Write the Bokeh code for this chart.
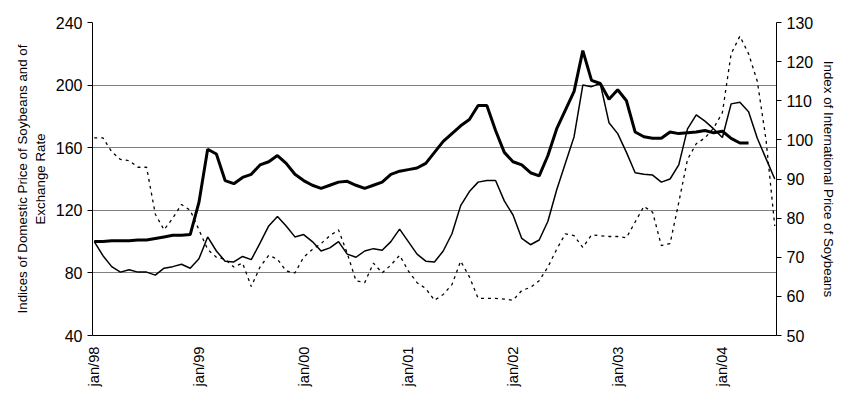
import math
from bokeh.plotting import figure
from bokeh.models import Range1d, LinearAxis, FixedTicker
from bokeh.embed import file_html
from bokeh.resources import INLINE

months = list(range(79))
tick_months = [0, 12, 24, 36, 48, 60, 72]
tick_labels = ["jan/98", "jan/99", "jan/00", "jan/01", "jan/02", "jan/03", "jan/04"]

# domestic price of soybeans (left axis), jan/98 - may/04
domestic = [100, 100, 100.5, 100.5, 100.5, 101, 101, 102, 103, 104, 104, 104.5,
            125, 159, 156, 139, 137, 141, 143, 149, 151, 155, 150, 143,
            139, 136, 134, 136, 138, 138.5, 136, 134, 136, 138, 143, 145,
            146, 147, 150, 157, 164, 169, 174, 178, 187, 187, 171, 157,
            151, 149, 144, 142, 155, 172, 184, 196, 222, 203, 201, 191,
            197, 190, 170, 167, 166, 166, 170, 169, 169.5, 170, 171, 169.5,
            170.5, 166, 163, 163]
# exchange rate (left axis)
exchange = [100, 91, 84, 80.5, 82, 80.5, 80.5, 78.6, 83, 84, 85.5, 83,
            89, 103, 94, 87.5, 87, 90.5, 88.5, 99, 110, 116, 110, 103,
            104.5, 100, 94, 96, 100, 92, 90, 94, 95.5, 94.5, 100, 108,
            100, 92, 87.5, 87, 94, 105, 123, 132, 138, 139, 139, 126,
            117, 102, 98, 101, 113, 133, 150, 167, 200, 199, 201, 176,
            169, 157, 144, 143, 142.5, 138, 140, 149, 172, 181, 177, 172,
            166.5, 188, 189, 183, 166, 153, 140]
# international price of soybeans (right axis)
international = [100.5, 100.5, 97, 95, 94.7, 93, 93, 81, 77, 80, 83.5, 82,
                 77, 72, 70, 69.5, 67.5, 68.5, 62.5, 67.5, 70.5, 69.5, 66.5, 66,
                 70, 72, 73.5, 75.5, 77, 71, 64, 63.5, 68.5, 66, 68, 70.5,
                 66.5, 63.5, 62, 59, 60.5, 63, 69, 65, 59.5, 59.5, 59.5, 59.3,
                 59, 61.5, 62.3, 64, 67.5, 72, 76, 75.5, 72.5, 75.7, 75.5, 75.3,
                 75.3, 75, 79, 83, 81.5, 73, 73.5, 84, 95, 99, 100.5, 103,
                 107, 122, 126.5, 122, 115, 100, 78]

FONT = "Liberation Sans"

p = figure(width=840, height=389, output_backend="svg", toolbar_location=None,
           x_range=Range1d(-0.2, 78.2), y_range=Range1d(40, 240),
           min_border_left=92, min_border_right=64, min_border_top=22, min_border_bottom=49)
p.outline_line_color = None
p.background_fill_color = "white"
p.extra_y_ranges = {"intl": Range1d(50, 130)}

p.line(months[:len(domestic)], domestic, color="black", line_width=3)
p.line(months[:len(exchange)], exchange, color="black", line_width=1.5)
p.line(months[:len(international)], international, color="black", line_width=1.3,
       line_dash="3 4", y_range_name="intl")

p.xgrid.grid_line_color = None
p.ygrid.grid_line_color = "#808080"
p.ygrid.grid_line_width = 1.2
p.yaxis.ticker = FixedTicker(ticks=[40, 80, 120, 160, 200, 240])

right = LinearAxis(y_range_name="intl", ticker=FixedTicker(ticks=list(range(50, 131, 10))))
p.add_layout(right, "right")

p.xaxis.ticker = FixedTicker(ticks=tick_months)
p.xaxis.major_label_overrides = {m: t for m, t in zip(tick_months, tick_labels)}
p.xaxis.major_label_orientation = math.pi / 2
p.xaxis.major_tick_line_color = None
p.xaxis.minor_tick_line_color = None

for ax in [p.xaxis[0], p.yaxis[0], right]:
    ax.axis_line_color = "black"
    ax.major_label_text_font = FONT
    ax.major_label_text_color = "black"
    ax.axis_label_text_font = FONT
    ax.axis_label_text_color = "black"
    ax.axis_label_text_font_style = "normal"
    ax.axis_label_text_font_size = "10pt"
    ax.minor_tick_line_color = None
p.yaxis[0].major_label_text_font_size = "12pt"
right.major_label_text_font_size = "12pt"
p.xaxis.major_label_text_font_size = "11pt"
for ax in [p.yaxis[0], right]:
    ax.major_tick_line_color = "black"
    ax.major_tick_out = 5
    ax.major_tick_in = 0

p.yaxis[0].axis_label = "Indices of Domestic Price of Soybeans and of\nExchange Rate"
right.axis_label = "Index of International Price of Soybeans"

open("out.html", "w").write(file_html(p, INLINE))
